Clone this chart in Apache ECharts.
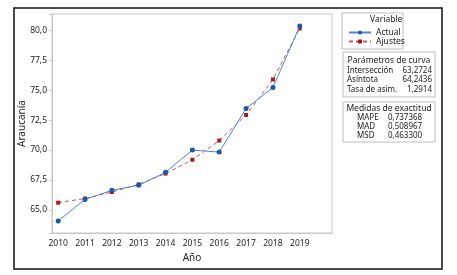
<!DOCTYPE html>
<html>
<head>
<meta charset="utf-8">
<script src="https://cdn.jsdelivr.net/npm/echarts@6/dist/echarts.min.js"></script>
<style>
html, body { margin: 0; padding: 0; background: #fff; }
#chart { width: 457px; height: 275px; }
</style>
</head>
<body>
<div id="chart"></div>
<script>
var years = [2010, 2011, 2012, 2013, 2014, 2015, 2016, 2017, 2018, 2019];
var actual = [64.08, 65.88, 66.64, 67.06, 68.14, 70.0, 69.83, 73.47, 75.22, 80.35];
var ajustes = [65.61, 65.96, 66.5, 67.14, 68.04, 69.19, 70.79, 72.93, 75.89, 80.15];

var paramNames = ['Intersección', 'Asíntota', 'Tasa de asim.'];
var paramValues = ['63,2724', '64,2436', '1,2914'];
var measureNames = ['MAPE', 'MAD', 'MSD'];
var measureValues = ['0,737368', '0,508967', '0,463300'];

var font = 'Noto Sans';
var txt = '#222';
var small = '8.5px ' + font;
var rowFont = '8px ' + font;

function pairs(vals) {
    return years.map(function (y, i) { return [y, vals[i]]; });
}

var graphics = [
    { type: 'rect', shape: { x: 14, y: 8, width: 428, height: 261 }, style: { fill: null, stroke: '#111', lineWidth: 1.5 } },
    { type: 'rect', shape: { x: 342, y: 13, width: 61, height: 36 }, style: { fill: null, stroke: '#bdbdbd', lineWidth: 1 } },
    { type: 'text', x: 370, y: 15, style: { text: 'Variable', font: small, fill: txt } },
    { type: 'rect', shape: { x: 343, y: 52, width: 92, height: 45 }, style: { fill: null, stroke: '#bdbdbd', lineWidth: 1 } },
    { type: 'text', x: 389, y: 56, style: { text: 'Parámetros de curva', font: small, fill: txt, align: 'center' } },
    { type: 'rect', shape: { x: 343, y: 102, width: 92, height: 40 }, style: { fill: null, stroke: '#bdbdbd', lineWidth: 1 } },
    { type: 'text', x: 389, y: 104, style: { text: 'Medidas de exactitud', font: small, fill: txt, align: 'center' } }
];
paramNames.forEach(function (n, i) {
    graphics.push({ type: 'text', x: 347, y: 66.5 + i * 9.5, style: { text: n, font: rowFont, fill: txt } });
    graphics.push({ type: 'text', x: 432, y: 66.5 + i * 9.5, style: { text: paramValues[i], font: rowFont, fill: txt, align: 'right' } });
});
measureNames.forEach(function (n, i) {
    graphics.push({ type: 'text', x: 357, y: 114 + i * 8.7, style: { text: n, font: rowFont, fill: txt } });
    graphics.push({ type: 'text', x: 388, y: 114 + i * 8.7, style: { text: measureValues[i], font: rowFont, fill: txt } });
});

var option = {
    backgroundColor: '#fff',
    animation: false,
    textStyle: { fontFamily: font },
    grid: {
        left: 52, top: 14, right: 125, bottom: 42,
        show: true, borderColor: '#c8c8c8', borderWidth: 1
    },
    legend: {
        left: 343, top: 23, orient: 'vertical',
        itemWidth: 22, itemHeight: 5, itemGap: 0,
        textStyle: { fontSize: 8.5, color: txt, fontFamily: font },
        data: ['Actual', 'Ajustes']
    },
    xAxis: {
        type: 'value',
        name: 'Año',
        nameLocation: 'middle',
        nameGap: 20,
        nameMoveOverlap: false,
        nameTextStyle: { fontSize: 10, color: txt },
        min: 2009.77, max: 2020.2,
        minInterval: 1, maxInterval: 1,
        splitLine: { show: false },
        axisLine: { lineStyle: { color: '#c8c8c8' } },
        axisTick: { show: false },
        axisLabel: {
            fontSize: 8.5, color: txt, margin: 6,
            formatter: function (v) {
                var r = Math.round(v);
                return Math.abs(v - r) < 1e-6 && years.indexOf(r) >= 0 ? String(r) : '';
            }
        }
    },
    yAxis: {
        type: 'value',
        name: 'Araucanía',
        nameLocation: 'middle',
        nameGap: 25,
        nameMoveOverlap: false,
        nameTextStyle: { fontSize: 10, color: txt },
        min: 63.08, max: 81.35,
        minInterval: 2.5, maxInterval: 2.5,
        splitLine: { show: false },
        axisLine: { show: true, lineStyle: { color: '#c8c8c8' } },
        axisTick: { show: true, length: 3, lineStyle: { color: '#c8c8c8' } },
        axisLabel: {
            fontSize: 8.5, color: txt, margin: 5,
            formatter: function (v) {
                var k = v / 2.5;
                return Math.abs(k - Math.round(k)) < 1e-6 ? v.toFixed(1).replace('.', ',') : '';
            }
        }
    },
    graphic: graphics,
    series: [
        {
            name: 'Actual',
            type: 'line',
            data: pairs(actual),
            symbol: 'circle',
            symbolSize: 5,
            itemStyle: { color: '#1f56a8' },
            lineStyle: { color: '#4a86d6', width: 1 },
            z: 3
        },
        {
            name: 'Ajustes',
            type: 'line',
            data: pairs(ajustes),
            symbol: 'rect',
            symbolSize: 4,
            itemStyle: { color: '#a31b1b' },
            lineStyle: { color: '#c35a55', width: 1, type: [4, 3] },
            z: 2
        }
    ]
};

var chart = echarts.init(document.getElementById('chart'));
chart.setOption(option);
</script>
</body>
</html>
